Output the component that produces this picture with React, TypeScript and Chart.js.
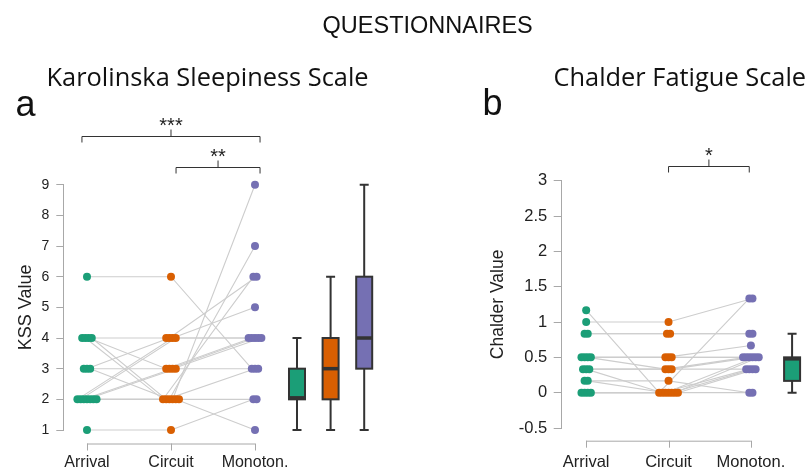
import React, { useEffect, useRef } from "react";
import { Chart, registerables } from "chart.js";

Chart.register(...registerables);

// ---------- DATA ----------
const categories = ["Arrival", "Circuit", "Monoton."];

// KSS (paired, one entry per participant)
const kssTicks = [1, 2, 3, 4, 5, 6, 7, 8, 9];
const kssArrival = [6, 1, 4, 4, 4, 4, 3, 3, 3, 2, 2, 2, 2, 2, 2, 2];
const kssCircuit = [6, 1, 4, 2, 3, 2, 3, 4, 2, 4, 4, 3, 3, 2, 2, 2];
const kssMonoton = [3, 2, 4, 6, 4, 3, 4, 6, 7, 5, 4, 4, 3, 9, 1, 2];
// box stats: [min, q1, median, q3, max]
const kssBoxArrival = [1, 2, 2, 3, 4];
const kssBoxCircuit = [1, 2, 3, 4, 6];
const kssBoxMonoton = [1, 3, 4, 6, 9];

// Chalder (paired)
const cfsTicks = [-0.5, 0, 0.5, 1, 1.5, 2, 2.5, 3];
const cfsArrival = [1.167, 1, 0.833, 0.833, 0.5, 0.5, 0.5, 0.5, 0.333, 0.333, 0.333, 0.167, 0.167, 0, 0, 0, 0];
const cfsCircuit = [0, 1, 0.833, 0.833, 0.5, 0.5, 0.333, 0.5, 0.333, 0, 0.333, 0.167, 0, 0, 0, 0, 0];
const cfsMonoton = [1.333, 1.333, 0.833, 0.833, 0.667, 0.5, 0.5, 0.5, 0.333, 0.333, 0.5, 0, 0.5, 0, 0.333, 0.5, 0.333];
const cfsBoxArrival = [0, 0.167, 0.5, 0.5, 0.833];
const cfsBoxCircuit = [0, 0, 0.333, 0.5, 1];
const cfsBoxMonoton = [0, 0.333, 0.5, 0.5, 1.333];

// significance brackets: [from category pos, to category pos, level (data units), label]
const kssBrackets: [number, number, number, string][] = [
  [0.94, 3.06, 10.59, "***"],
  [2.06, 3.06, 9.57, "**"],
];
const cfsBrackets: [number, number, number, string][] = [[2.0, 2.98, 3.21, "*"]];

// ---------- STYLE ----------
const COLORS = ["#1b9e77", "#d95f02", "#7570b3"];
const FONT = "'Liberation Sans', Arial, sans-serif";
const TITLE_FONT = "'Open Sans', 'Noto Sans', sans-serif";
Chart.defaults.font.family = FONT;

function jitter(values: number[], step: number): number[] {
  const counts: Record<string, number> = {};
  values.forEach((v) => (counts[v] = (counts[v] || 0) + 1));
  const seen: Record<string, number> = {};
  return values.map((v) => {
    const n = counts[v];
    const k = seen[v] || 0;
    seen[v] = k + 1;
    return (k - (n - 1) / 2) * step;
  });
}

function buildDatasets(groups: number[][]) {
  const jit = groups.map((g) => jitter(g, 0.038));
  const n = groups[0].length;
  const ds: any[] = [];
  for (let i = 0; i < n; i++) {
    ds.push({
      type: "scatter",
      data: groups.map((g, gi) => ({ x: gi + 1 + jit[gi][i], y: g[i] })),
      showLine: true,
      borderColor: "#cdcdcd",
      borderWidth: 1.1,
      pointRadius: 0,
      clip: false,
      order: 2,
    });
  }
  groups.forEach((g, gi) => {
    ds.push({
      type: "scatter",
      data: g.map((v, i) => ({ x: gi + 1 + jit[gi][i], y: v })),
      backgroundColor: COLORS[gi],
      borderWidth: 0,
      pointRadius: 4,
      clip: false,
      order: 1,
    });
  });
  return ds;
}

function decorPlugin(cfg: {
  boxes: { x: number; stats: number[]; color: string }[];
  brackets: [number, number, number, string][];
  axisGap: number;
}) {
  return {
    id: "decor",
    afterDatasetsDraw(chart: any) {
      const { ctx, chartArea } = chart;
      const xs = chart.scales.x;
      const ys = chart.scales.y;
      ctx.save();
      // boxplots
      const bw = 16;
      const cap = 9;
      cfg.boxes.forEach((b) => {
        const cx = xs.getPixelForValue(b.x);
        const [mn, q1, md, q3, mx] = b.stats.map((v) => ys.getPixelForValue(v));
        ctx.strokeStyle = "#333";
        ctx.lineWidth = 2;
        ctx.beginPath();
        ctx.moveTo(cx, mx);
        ctx.lineTo(cx, q3);
        ctx.moveTo(cx, q1);
        ctx.lineTo(cx, mn);
        ctx.moveTo(cx - cap / 2, mx);
        ctx.lineTo(cx + cap / 2, mx);
        ctx.moveTo(cx - cap / 2, mn);
        ctx.lineTo(cx + cap / 2, mn);
        ctx.stroke();
        ctx.fillStyle = b.color;
        ctx.fillRect(cx - bw / 2, q3, bw, q1 - q3);
        ctx.strokeRect(cx - bw / 2, q3, bw, q1 - q3);
        ctx.lineWidth = 3.5;
        let my = md;
        if (Math.abs(md - q1) < 1) my = q1 - 1.5;
        if (Math.abs(md - q3) < 1) my = q3 + 1.5;
        ctx.beginPath();
        ctx.moveTo(cx - bw / 2, my);
        ctx.lineTo(cx + bw / 2, my);
        ctx.stroke();
      });
      // x axis (R style)
      const ay = chartArea.bottom + cfg.axisGap;
      const x1 = xs.getPixelForValue(1);
      const x3 = xs.getPixelForValue(categories.length);
      ctx.strokeStyle = "#a8a8a8";
      ctx.lineWidth = 1;
      ctx.beginPath();
      ctx.moveTo(x1, ay + 0.5);
      ctx.lineTo(x3, ay + 0.5);
      categories.forEach((_, i) => {
        const px = Math.round(xs.getPixelForValue(i + 1)) + 0.5;
        ctx.moveTo(px, ay);
        ctx.lineTo(px, ay + 7);
      });
      ctx.stroke();
      // brackets
      ctx.strokeStyle = "#333";
      ctx.fillStyle = "#222";
      ctx.lineWidth = 1;
      ctx.font = `20px ${FONT}`;
      ctx.textAlign = "center";
      ctx.textBaseline = "alphabetic";
      cfg.brackets.forEach(([a, b, lvl, label]) => {
        const pa = xs.getPixelForValue(a);
        const pb = xs.getPixelForValue(b);
        const py = Math.round(ys.getPixelForValue(lvl)) + 0.5;
        const pm = (pa + pb) / 2;
        ctx.beginPath();
        ctx.moveTo(pa, py + 6);
        ctx.lineTo(pa, py);
        ctx.lineTo(pb, py);
        ctx.lineTo(pb, py + 6);
        ctx.moveTo(pm, py);
        ctx.lineTo(pm, py - 7);
        ctx.stroke();
        ctx.fillText(label, pm, py - 4.5);
      });
      ctx.restore();
    },
  };
}

function makeConfig(p: {
  groups: number[][];
  boxes: number[][];
  brackets: [number, number, number, string][];
  ticks: number[];
  xmin: number;
  xmax: number;
  padTop: number;
  padRight: number;
  xHeight: number;
  yWidth: number;
  yTitle: string;
  yTitleSize: number;
  yTitlePad: number;
  yTickSize: number;
  yTickLen: number;
  yTickPad: number;
  xTickSize: number;
  xTickPad: number;
  axisGap: number;
}) {
  const boxX = [3.5, 3.9, 4.3];
  return {
    type: "scatter",
    data: { datasets: buildDatasets(p.groups) },
    options: {
      animation: false,
      responsive: false,
      maintainAspectRatio: false,
      events: [],
      layout: { padding: { top: p.padTop, left: 0, right: p.padRight, bottom: 0 } },
      plugins: { legend: { display: false }, tooltip: { enabled: false }, title: { display: false } },
      scales: {
        x: {
          type: "linear",
          min: p.xmin,
          max: p.xmax,
          afterFit: (s: any) => {
            s.height = p.xHeight;
          },
          afterBuildTicks: (s: any) => {
            s.ticks = categories.map((_, i) => ({ value: i + 1 }));
          },
          ticks: {
            callback: (v: any) => categories[Math.round(v) - 1] ?? "",
            padding: p.xTickPad,
            font: { size: p.xTickSize },
            color: "#222",
            autoSkip: false,
            maxRotation: 0,
          },
          grid: { display: false, drawTicks: false, tickLength: 0 },
          border: { display: false },
        },
        y: {
          type: "linear",
          min: p.ticks[0],
          max: p.ticks[p.ticks.length - 1],
          afterFit: (s: any) => {
            s.width = p.yWidth;
          },
          afterBuildTicks: (s: any) => {
            s.ticks = p.ticks.map((v) => ({ value: v }));
          },
          ticks: {
            callback: (v: any) => String(v),
            padding: p.yTickPad,
            font: { size: p.yTickSize },
            color: "#222",
          },
          grid: { drawOnChartArea: false, drawTicks: true, tickLength: p.yTickLen, color: "#a8a8a8" },
          border: { display: true, color: "#a8a8a8" },
          title: {
            display: true,
            text: p.yTitle,
            font: { size: p.yTitleSize },
            color: "#222",
            padding: { top: p.yTitlePad, bottom: 0 },
          },
        },
      },
    },
    plugins: [
      decorPlugin({
        boxes: p.boxes.map((s, i) => ({ x: boxX[i], stats: s, color: COLORS[i] })),
        brackets: p.brackets,
        axisGap: p.axisGap,
      }),
    ],
  };
}

export default function App() {
  const refA = useRef<HTMLCanvasElement>(null);
  const refB = useRef<HTMLCanvasElement>(null);

  useEffect(() => {
    const chartA = new Chart(
      refA.current as HTMLCanvasElement,
      makeConfig({
        groups: [kssArrival, kssCircuit, kssMonoton],
        boxes: [kssBoxArrival, kssBoxCircuit, kssBoxMonoton],
        brackets: kssBrackets,
        ticks: kssTicks,
        xmin: 0.718,
        xmax: 4.5,
        padTop: 184.7,
        padRight: 39,
        xHeight: 40,
        yWidth: 63.3,
        yTitle: "KSS Value",
        yTitleSize: 18,
        yTitlePad: 15,
        yTickSize: 14,
        yTickLen: 7,
        yTickPad: 7,
        xTickSize: 16,
        xTickPad: 23,
        axisGap: 13.5,
      }) as any
    );
    const chartB = new Chart(
      refB.current as HTMLCanvasElement,
      makeConfig({
        groups: [cfsArrival, cfsCircuit, cfsMonoton],
        boxes: [cfsBoxArrival, cfsBoxCircuit, cfsBoxMonoton],
        brackets: cfsBrackets,
        ticks: cfsTicks,
        xmin: 0.703,
        xmax: 3.665,
        padTop: 180.7,
        padRight: 0,
        xHeight: 42,
        yWidth: 141.7,
        yTitle: "Chalder Value",
        yTitleSize: 17.5,
        yTitlePad: 67.2,
        yTickSize: 16.5,
        yTickLen: 8,
        yTickPad: 6.5,
        xTickSize: 16.5,
        xTickPad: 24.8,
        axisGap: 12.7,
      }) as any
    );
    return () => {
      chartA.destroy();
      chartB.destroy();
    };
  }, []);

  const text = (style: React.CSSProperties, content: string) => (
    <div style={{ position: "absolute", whiteSpace: "nowrap", lineHeight: 1, color: "#111", ...style }}>{content}</div>
  );

  return (
    <div
      style={{
        position: "fixed",
        left: 0,
        top: 0,
        width: 811,
        height: 470,
        overflow: "hidden",
        background: "#fff",
      }}
    >
      <canvas ref={refA} width={420} height={470} style={{ position: "absolute", left: 0, top: 0, display: "block" }} />
      <canvas ref={refB} width={391} height={470} style={{ position: "absolute", left: 420, top: 0, display: "block" }} />
      {text(
        { left: 427.7, top: 14, transform: "translateX(-50%)", fontFamily: FONT, fontSize: 23.5 },
        "QUESTIONNAIRES"
      )}
      {text({ left: 46.5, top: 63.6, fontFamily: TITLE_FONT, fontSize: 25.4 }, "Karolinska Sleepiness Scale")}
      {text({ left: 553.5, top: 63.6, fontFamily: TITLE_FONT, fontSize: 25.4 }, "Chalder Fatigue Scale")}
      {text({ left: 15.4, top: 85.5, fontFamily: FONT, fontSize: 36 }, "a")}
      {text({ left: 482.6, top: 84.5, fontFamily: FONT, fontSize: 36 }, "b")}
    </div>
  );
}
